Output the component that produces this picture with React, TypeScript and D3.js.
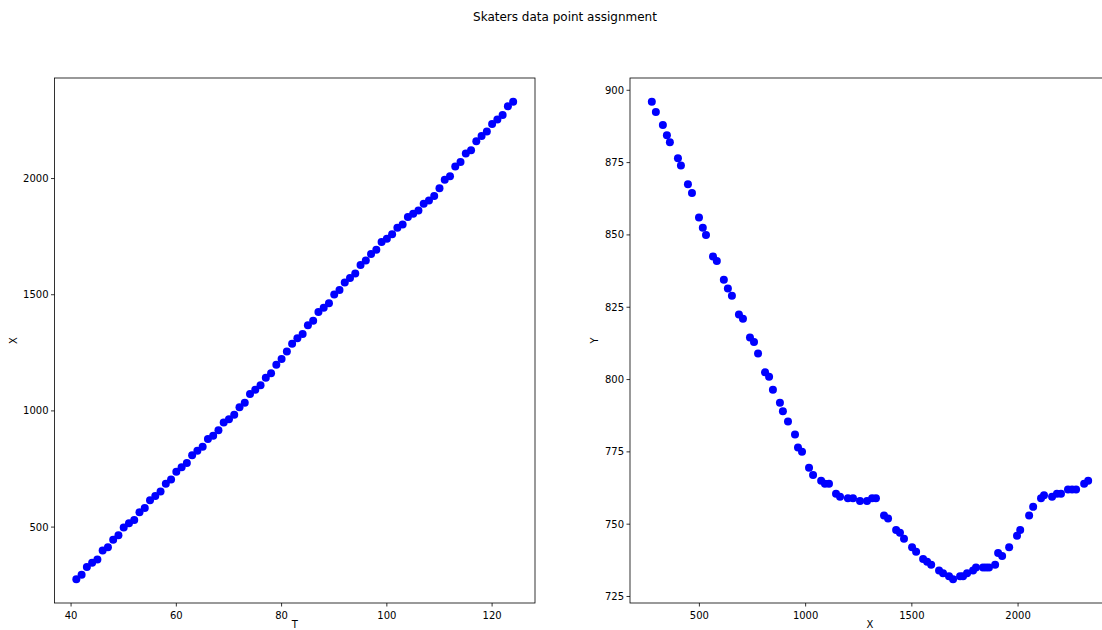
import React from "react";
import * as d3 from "d3";

const T_VALUES: number[] = d3.range(41, 125);

const X_VALUES: number[] = [
  276, 295, 328, 347, 361, 399, 413, 446, 465, 498,
  516, 531, 564, 582, 615, 634, 653, 686, 705, 738,
  757, 776, 809, 828, 846, 879, 893, 917, 950, 964,
  983, 1016, 1035, 1073, 1091, 1110, 1143, 1162, 1199, 1223,
  1256, 1289, 1313, 1331, 1369, 1388, 1426, 1444, 1463, 1501,
  1520, 1553, 1572, 1591, 1628, 1647, 1675, 1694, 1727, 1741,
  1760, 1788, 1802, 1835, 1849, 1863, 1892, 1906, 1925, 1958,
  1995, 2010, 2052, 2071, 2108, 2122, 2160, 2183, 2202, 2235,
  2254, 2273, 2311, 2330,
];

const Y_VALUES: number[] = [
  896, 892.5, 888, 884.5, 882, 876.5, 874, 867.5, 864.5, 856,
  852.5, 850, 842.5, 841, 834.5, 831.5, 829, 822.5, 821, 814.5,
  813, 809, 802.5, 801, 796.5, 792, 789, 785.5, 781, 776.5,
  775, 769.5, 767, 765, 764, 764, 760.5, 759.5, 759, 759,
  758, 758, 759, 759, 753, 752, 748, 747, 745, 742,
  740.5, 738, 737, 736, 734, 733, 732, 731, 732, 732,
  733, 734, 735, 735, 735, 735, 736, 740, 739, 742,
  746, 748, 753, 756, 759, 760, 759.5, 760.5, 760.5, 762,
  762, 762, 764, 765,
];

const LEFT_X_TICKS = [40, 60, 80, 100, 120];
const LEFT_Y_TICKS = [500, 1000, 1500, 2000];
const RIGHT_X_TICKS = [500, 1000, 1500, 2000];
const RIGHT_Y_TICKS = [725, 750, 775, 800, 825, 850, 875, 900];

const TITLE = "Skaters data point assignment";

function padDomain(vals: number[]): [number, number] {
  const [a, b] = d3.extent(vals) as [number, number];
  const m = (b - a) * 0.05;
  return [a - m, b + m];
}

const FONT = "DejaVu Sans, sans-serif";

function Panel(props: {
  left: number; top: number; width: number; height: number;
  xs: number[]; ys: number[]; xTicks: number[]; yTicks: number[];
  xLabel: string; yLabel: string; yLabelX: number;
}) {
  const { left, top, width, height, xs, ys, xTicks, yTicks, xLabel, yLabel, yLabelX } = props;
  const x = d3.scaleLinear().domain(padDomain(xs)).range([left, left + width]);
  const y = d3.scaleLinear().domain(padDomain(ys)).range([top + height, top]);
  const bottom = top + height;
  const right = left + width;
  return (
    <g>
      {xs.map((v, i) => (
        <circle key={i} cx={x(v)} cy={y(ys[i])} r={4} fill="#0000ff" />
      ))}
      <rect x={left} y={top} width={width} height={height} fill="none" stroke="#000" strokeWidth={0.8} />
      {xTicks.map((t) => (
        <g key={"x" + t}>
          <line x1={x(t)} x2={x(t)} y1={bottom} y2={bottom + 3.5} stroke="#000" strokeWidth={0.8} />
          <text x={x(t)} y={bottom + 16} textAnchor="middle" fontSize={10} fontFamily={FONT} fill="#000">{t}</text>
        </g>
      ))}
      {yTicks.map((t) => (
        <g key={"y" + t}>
          <line x1={left - 3.5} x2={left} y1={y(t)} y2={y(t)} stroke="#000" strokeWidth={0.8} />
          <text x={left - 6} y={y(t)} dy="0.35em" textAnchor="end" fontSize={10} fontFamily={FONT} fill="#000">{t}</text>
        </g>
      ))}
      <text x={(left + right) / 2} y={bottom + 25} textAnchor="middle" fontSize={10} fontFamily={FONT} fill="#000">{xLabel}</text>
      <text transform={`translate(${yLabelX},${(top + bottom) / 2}) rotate(-90)`} textAnchor="middle" fontSize={10} fontFamily={FONT} fill="#000">{yLabel}</text>
    </g>
  );
}

export default function App() {
  return (
    <svg width={1102} height={630} style={{ position: "absolute", left: 0, top: 0, background: "#fff" }}>
      <rect x={0} y={0} width={1102} height={630} fill="#fff" />
      <text x={565} y={21} textAnchor="middle" fontSize={12} fontFamily={FONT} fill="#000">{TITLE}</text>
      <Panel left={54.5} top={78} width={480.5} height={525} xs={T_VALUES} ys={X_VALUES}
        xTicks={LEFT_X_TICKS} yTicks={LEFT_Y_TICKS} xLabel="T" yLabel="X" yLabelX={17} />
      <Panel left={630} top={78} width={480} height={525} xs={X_VALUES} ys={Y_VALUES}
        xTicks={RIGHT_X_TICKS} yTicks={RIGHT_Y_TICKS} xLabel="X" yLabel="Y" yLabelX={598} />
    </svg>
  );
}
